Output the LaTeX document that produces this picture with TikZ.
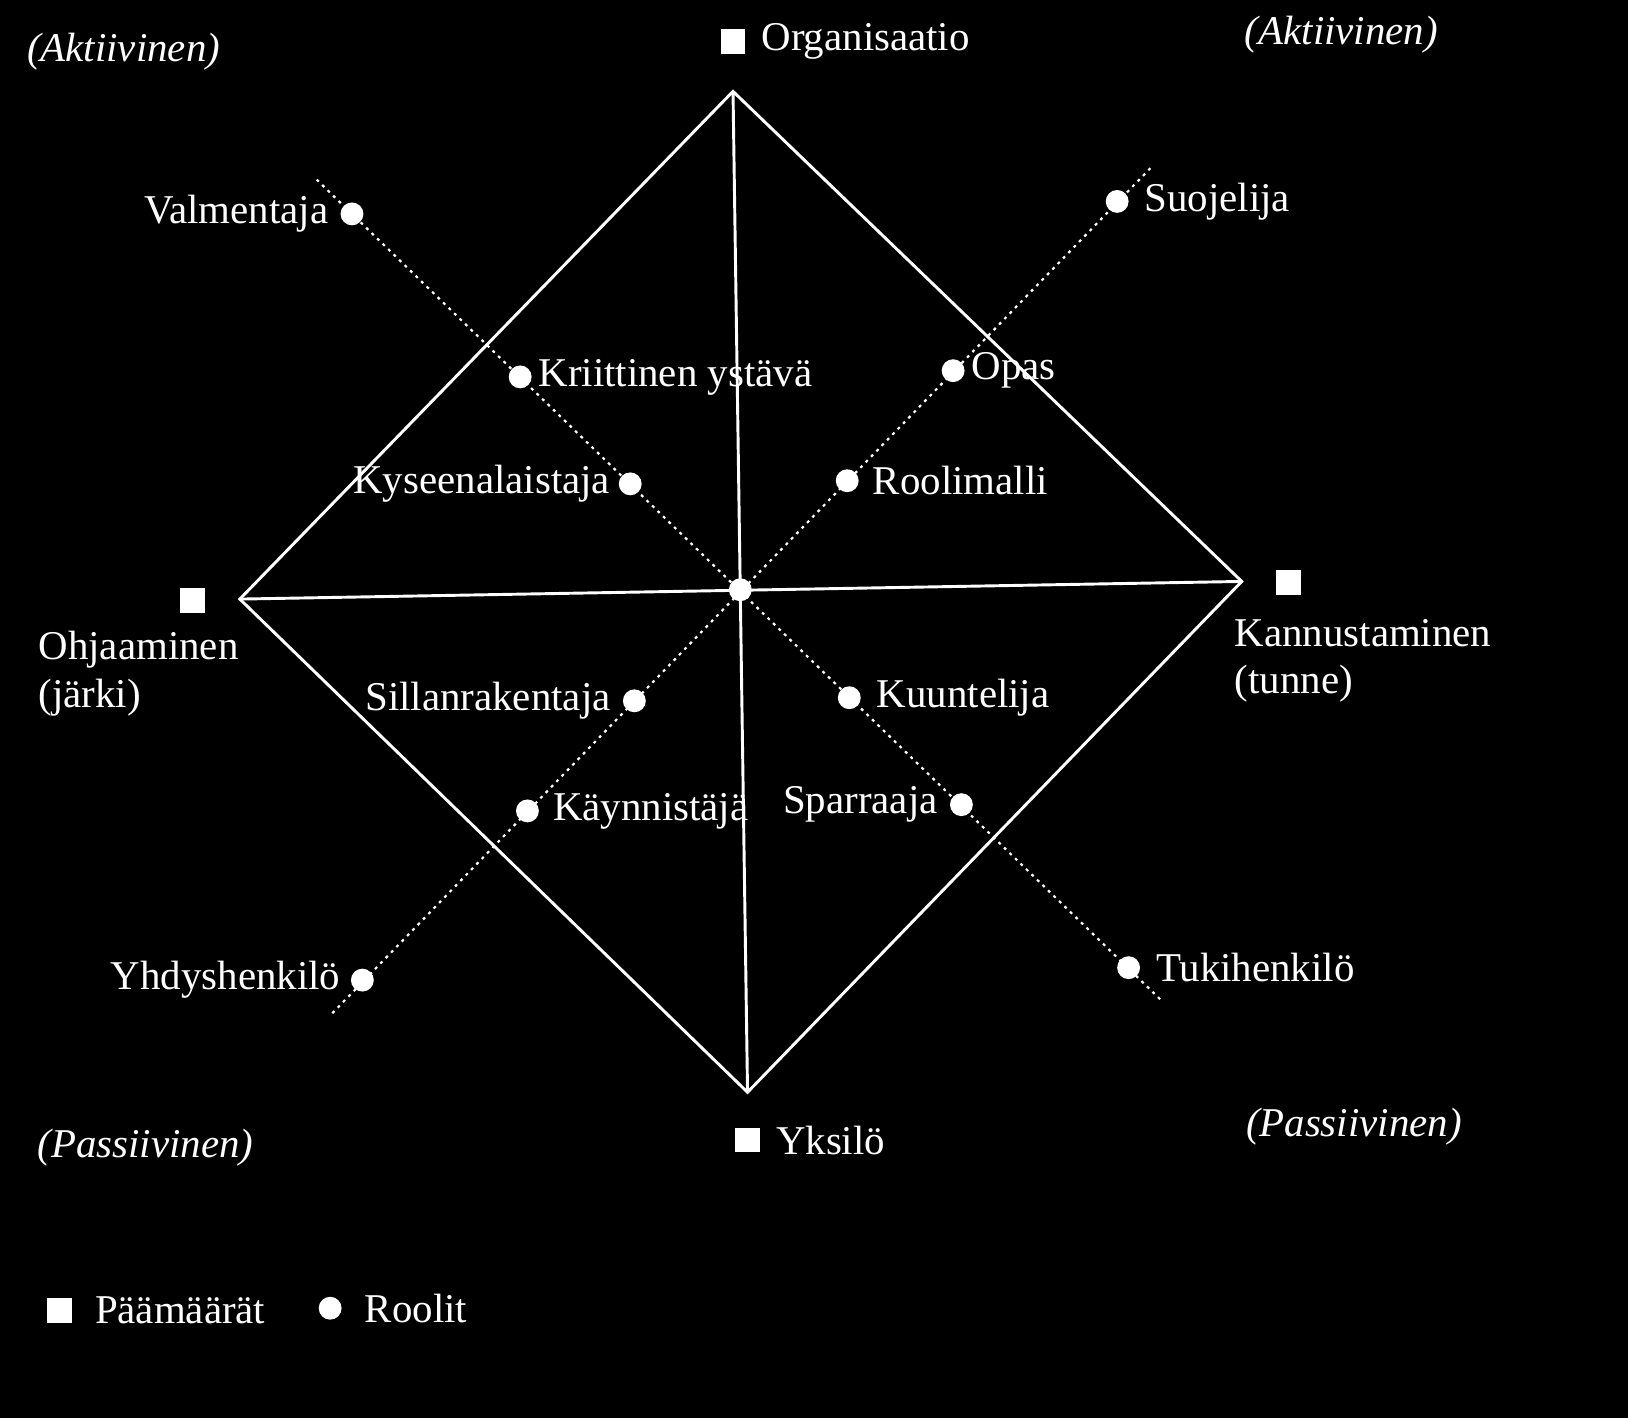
\documentclass[tikz,border=0pt]{standalone}
\usepackage{fontspec}
\setmainfont{Liberation Serif}
\usepackage{tikz}
\usetikzlibrary{positioning}

\begin{document}
\begin{tikzpicture}[x=0.01cm,y=-0.01cm,font=\fontsize{11.2}{13}\selectfont,
    edge/.style={white,line width=0.8pt,line join=miter},
    axisdots/.style={white,line width=0.6pt,dash pattern=on 0.8pt off 1.3pt},
    role/.style={circle,fill=white,inner sep=0pt,minimum size=0.22cm},
    goal/.style={rectangle,fill=white,inner sep=0pt,minimum size=0.24cm},
    lbl/.style={text=white,inner sep=1pt},
    mode/.style={text=white,inner sep=1pt,font=\fontsize{11.2}{13}\selectfont\itshape}]
  \useasboundingbox (0,0) rectangle (1568,1366);
  \fill[black] (0,0) rectangle (1568,1366);

  % diamond and the two axes
  \coordinate (top) at (706,88);
  \coordinate (right) at (1196,560);
  \coordinate (bottom) at (720,1052);
  \coordinate (left) at (231,577);
  \draw[edge] (top) -- (right) -- (bottom) -- (left) -- cycle;
  \draw[edge] (top) -- (bottom);
  \draw[edge] (left) -- (right);

  % dotted diagonals
  \coordinate (nwEnd) at (305,173);
  \coordinate (seEnd) at (1118,963);
  \coordinate (neEnd) at (1108,162);
  \coordinate (swEnd) at (318,978);
  \draw[axisdots] (nwEnd) -- (seEnd);
  \draw[axisdots] (neEnd) -- (swEnd);

  \node[role] (hub) at (713,568) {};

  % roles
  \node[role] (val) at (339,206) {};
  \node[role] (kri) at (501,363) {};
  \node[role] (kys) at (607,466) {};
  \node[role] (suo) at (1076,194) {};
  \node[role] (opa) at (918,357) {};
  \node[role] (roo) at (816,463) {};
  \node[role] (sil) at (611,675) {};
  \node[role] (kay) at (508,781) {};
  \node[role] (yhd) at (349,944) {};
  \node[role] (kuu) at (818,672) {};
  \node[role] (spa) at (926,775) {};
  \node[role] (tuk) at (1087,932) {};

  \node[lbl,left=2pt of val] (valL) {Valmentaja};
  \node[lbl,right=0.5pt of kri] (kriL) {Kriittinen ystävä};
  \node[lbl,left=1pt of kys] (kysL) {Kyseenalaistaja};
  \node[lbl,right=3pt of suo] (suoL) {Suojelija};
  \node[lbl,right=0.5pt of opa] (opaL) {Opas};
  \node[lbl,right=2.5pt of roo] (rooL) {Roolimalli};
  \node[lbl,left=2pt of sil] (silL) {Sillanrakentaja};
  \node[lbl,right=2.5pt of kay] (kayL) {Käynnistäjä};
  \node[lbl,left=1.5pt of yhd] (yhdL) {Yhdyshenkilö};
  \node[lbl,right=3pt of kuu] (kuuL) {Kuuntelija};
  \node[lbl,left=2pt of spa] (spaL) {Sparraaja};
  \node[lbl,right=3pt of tuk] (tukL) {Tukihenkilö};

  % goals
  \node[goal] (org) at (706,40) {};
  \node[lbl,right=3pt of org] (orgL) {Organisaatio};
  \node[goal] (ohj) at (185,578) {};
  \node[lbl,align=left,anchor=north west] (ohjL) at (33,604) {Ohjaaminen\\(järki)};
  \node[goal] (kan) at (1241,561) {};
  \node[lbl,align=left,anchor=north west] (kanL) at (1185,592) {Kannustaminen\\(tunne)};
  \node[goal] (yks) at (720,1098) {};
  \node[lbl,right=3pt of yks] (yksL) {Yksilö};

  % corners
  \node[mode] (aktL) at (119,50) {(Aktiivinen)};
  \node[mode] (aktR) at (1292,33) {(Aktiivinen)};
  \node[mode] (pasL) at (140,1105) {(Passiivinen)};
  \node[mode] (pasR) at (1304,1085) {(Passiivinen)};

  % key
  \node[goal] (keyGoal) at (57,1262) {};
  \node[lbl,right=5pt of keyGoal] (keyGoalL) {Päämäärät};
  \node[role] (keyRole) at (318,1260) {};
  \node[lbl,right=5pt of keyRole] (keyRoleL) {Roolit};
\end{tikzpicture}
\end{document}
